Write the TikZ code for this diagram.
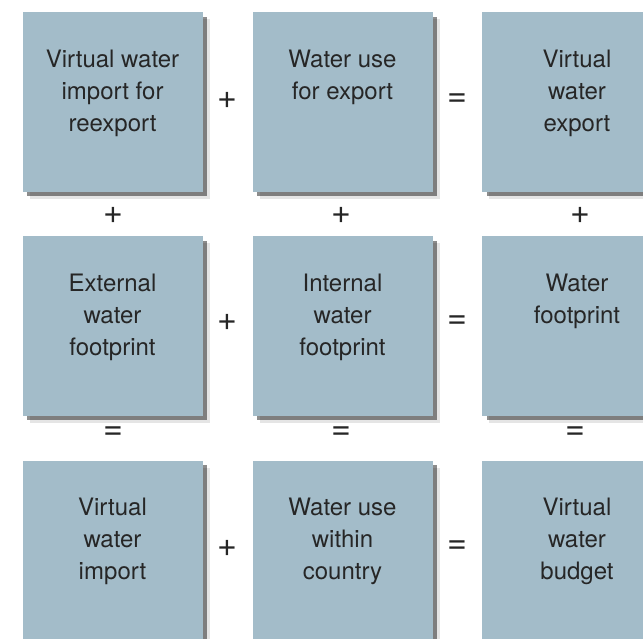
\documentclass[tikz,border=0pt]{standalone}
\usepackage{fontspec}
\setmainfont{TeX Gyre Heros}
\usetikzlibrary{shadows}

\definecolor{boxblue}{HTML}{A3BCC9}
\definecolor{boxink}{HTML}{262626}

\tikzset{
    wbox/.style={fill=boxblue, inner sep=0pt, minimum width=180pt, minimum height=179.5pt,
        drop shadow={shadow xshift=7pt, shadow yshift=-7pt, fill=black, opacity=0.1},
        drop shadow={shadow xshift=4.5pt, shadow yshift=-4.5pt, fill=black, opacity=0.45}},
    wtext/.style={anchor=north, align=center, inner sep=0pt, text=boxink,
        font=\fontsize{24}{32}\selectfont},
    op/.style={inner sep=0pt, text=boxink, font=\fontsize{34}{36}\selectfont}
}

\begin{document}
\begin{tikzpicture}[x=1pt, y=1pt]
            \useasboundingbox (0,0) rectangle (643,638);
            % first row
            \node[wbox] (vwr) at (112.5,535.75) {};
            \node[wbox] (wue) at (342.5,535.75) {};
            \node[wbox, minimum width=190pt] (vwe) at (577,535.75) {};
            % second row
            \node[wbox] (ewf) at (112.5,311.75) {};
            \node[wbox] (iwf) at (342.5,311.75) {};
            \node[wbox, minimum width=190pt] (wf) at (577,311.75) {};
            % third row
            \node[wbox] (vwi) at (112.5,87.25) {};
            \node[wbox] (wuc) at (342.5,87.25) {};
            \node[wbox, minimum width=190pt] (vwb) at (577,87.25) {};

            \node[wtext] (vwrT) at ([yshift=-37.5pt]vwr.north) {Virtual water\\import for\\reexport};
            \node[wtext] (wueT) at ([yshift=-37.5pt]wue.north) {Water use\\for export};
            \node[wtext] (vweT) at ([yshift=-37.5pt]vwe.north) {Virtual\\water\\export};
            \node[wtext] (ewfT) at ([yshift=-37.5pt]ewf.north) {External\\water\\footprint};
            \node[wtext] (iwfT) at ([yshift=-37.5pt]iwf.north) {Internal\\water\\footprint};
            \node[wtext] (wfT) at ([yshift=-37.5pt]wf.north) {Water\\footprint};
            \node[wtext] (vwiT) at ([yshift=-37.5pt]vwi.north) {Virtual\\water\\import};
            \node[wtext] (wucT) at ([yshift=-37.5pt]wuc.north) {Water use\\within\\country};
            \node[wtext] (vwbT) at ([yshift=-37.5pt]vwb.north) {Virtual\\water\\budget};

            % operators along the rows
            \node[op] (p1) at (227,538) {+};
            \node[op] (e1) at (457,538) {=};
            \node[op] (p2) at (227,316) {+};
            \node[op] (e2) at (457,316) {=};
            \node[op] (p3) at (227,90) {+};
            \node[op] (e3) at (457,91) {=};
            % operators down the columns
            \node[op] (pc1) at (113,423) {+};
            \node[op] (pc2) at (341,423) {+};
            \node[op] (pc3) at (580,423) {+};
            \node[op] (ec1) at (113,205) {=};
            \node[op] (ec2) at (341,205) {=};
            \node[op] (ec3) at (575,205) {=};
        \end{tikzpicture}
\end{document}
